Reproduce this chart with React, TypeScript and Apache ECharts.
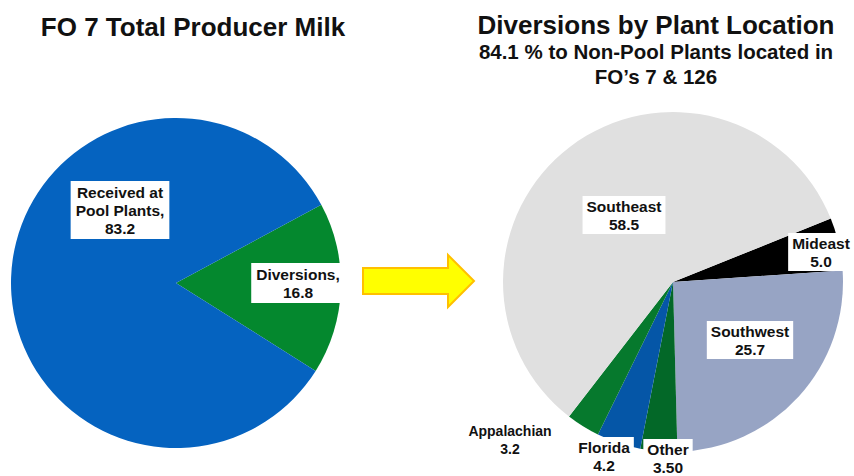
import React, { useEffect, useRef } from "react";
import * as echarts from "echarts";

// Left pie: FO 7 total producer milk
const leftCategories = ["Diversions", "Received at Pool Plants"];
const leftValues = [16.8, 83.2];
const leftLabels = ["Diversions,\n16.8", "Received at\nPool Plants,\n83.2"];
const leftColors = ["#04882E", "#0563C0"];

// Right pie: diversions by plant location
const rightCategories = ["Mideast", "Southwest", "Other", "Florida", "Appalachian", "Southeast"];
const rightValues = [5.0, 25.7, 3.5, 4.2, 3.2, 58.5];
const rightValueLabels = ["5.0", "25.7", "3.50", "4.2", "3.2", "58.5"];
const rightColors = ["#000000", "#97A4C4", "#036828", "#0556A7", "#06792D", "#E0E0E0"];

const FONT = "'Liberation Sans', Arial, sans-serif";

// label anchor positions (layout only)
const leftLabelPos = [
  [298, 283],
  [120, 210],
];
const rightLabelPos = [
  [821, 252],
  [750, 340],
  [668, 458],
  [604, 456],
  [510, 440],
  [624, 215],
];
const rightLabelBoxed = [true, true, true, true, false, true];
const rightLabelSize = [15.5, 15.5, 15.5, 15.5, 14, 15.5];

export default function App() {
  const ref = useRef<HTMLDivElement>(null);

  useEffect(() => {
    if (!ref.current) return;
    const chart = echarts.init(ref.current, null, { renderer: "svg" });

    const leftData = leftCategories.map((n, i) => ({
      name: n,
      value: leftValues[i],
      itemStyle: { color: leftColors[i] },
      label: {
        formatter: leftLabels[i],
      },
    }));

    const rightData = rightCategories.map((n, i) => ({
      name: n,
      value: rightValues[i],
      itemStyle: { color: rightColors[i] },
      label: {
        formatter: n + "\n" + rightValueLabels[i],
        fontSize: rightLabelSize[i],
        backgroundColor: rightLabelBoxed[i] ? "#FFFFFF" : "transparent",
      },
    }));

    const labelBase = {
      show: true,
      position: "inside" as const,
      fontFamily: FONT,
      fontWeight: "bold" as const,
      fontSize: 15.5,
      lineHeight: 18,
      color: "#111111",
      backgroundColor: "#FFFFFF",
      padding: [2, 5, 2, 5],
      align: "center" as const,
    };

    chart.setOption({
      animation: false,
      backgroundColor: "#FFFFFF",
      title: [
        {
          text: "FO 7 Total Producer Milk",
          left: 188,
          top: 8,
          textAlign: "center",
          textStyle: {
            fontFamily: FONT,
            fontWeight: "bold",
            fontSize: 26,
            lineHeight: 28,
            color: "#111111",
          },
        },
        {
          text: "Diversions by Plant Location",
          left: 651,
          top: 6,
          textAlign: "center",
          textStyle: {
            fontFamily: FONT,
            fontWeight: "bold",
            fontSize: 26,
            lineHeight: 28,
            color: "#111111",
          },
        },
        {
          text: "84.1 % to Non-Pool Plants located in\nFO\u2019s 7 & 126",
          left: 651,
          top: 34,
          textAlign: "center",
          textStyle: {
            fontFamily: FONT,
            fontWeight: "bold",
            fontSize: 20.5,
            lineHeight: 25,
            color: "#111111",
            align: "center",
          },
        },
      ],
      graphic: [
        {
          type: "polygon",
          shape: {
            points: [
              [363, 268],
              [448, 268],
              [448, 255],
              [474, 281],
              [448, 307],
              [448, 294],
              [363, 294],
            ],
          },
          style: { fill: "#FFFF00", stroke: "#FFC000", lineWidth: 2 },
        },
      ],
      series: [
        {
          type: "pie",
          center: [176, 283],
          radius: [0, 165],
          startAngle: 28.3,
          clockwise: true,
          avoidLabelOverlap: false,
          label: labelBase,
          labelLine: { show: false },
          emphasis: { disabled: true },
          labelLayout: (p: any) => ({
            x: leftLabelPos[p.dataIndex][0],
            y: leftLabelPos[p.dataIndex][1],
            align: "center",
            verticalAlign: "middle",
          }),
          data: leftData,
        },
        {
          type: "pie",
          center: [673, 282],
          radius: [0, 170],
          startAngle: 21.9,
          clockwise: true,
          avoidLabelOverlap: false,
          label: { ...labelBase, padding: [2, 4, 0, 4] },
          labelLine: { show: false },
          emphasis: { disabled: true },
          labelLayout: (p: any) => ({
            x: rightLabelPos[p.dataIndex][0],
            y: rightLabelPos[p.dataIndex][1],
            align: "center",
            verticalAlign: "middle",
          }),
          data: rightData,
        },
      ],
    });

    return () => chart.dispose();
  }, []);

  return (
    <div
      ref={ref}
      style={{ position: "fixed", left: 0, top: 0, width: 854, height: 476 }}
    />
  );
}
